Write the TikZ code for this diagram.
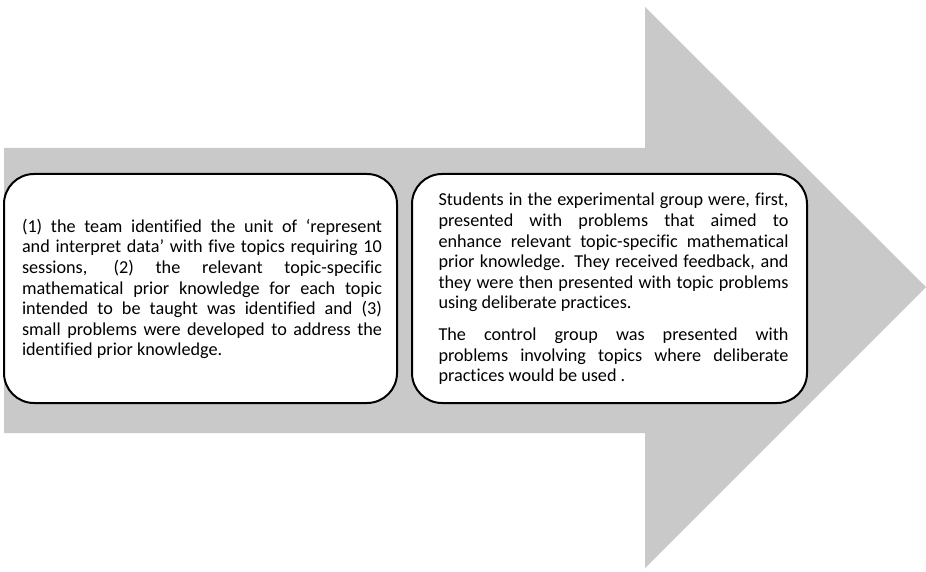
\documentclass[tikz,border=0pt]{standalone}
\usepackage{fontspec}
\setmainfont{Carlito}[Ligatures=NoCommon]
\definecolor{flowgray}{RGB}{201,201,201}
% keep every line break where it is written
\hyphenpenalty=10000
\exhyphenpenalty=10000
\begin{document}
\begin{tikzpicture}[x=1pt,y=1pt,
  flow/.style={fill=flowgray, draw=none},
  stage/.style={draw=black, line width=2pt, fill=white, rounded corners=30pt,
    minimum height=229pt, inner sep=0pt},
  stagetext/.style={text width=#1, align=justify,
    font=\fontsize{18.2}{20.6}\selectfont}]
  % canvas
  \useasboundingbox (0,0) rectangle (926,571);
  % block arrow in the background
  \path[flow] (4,423) -- (645,423) -- (645,564) -- (926,284) -- (645,3)
    -- (645,138) -- (4,138) -- cycle;
  % stage boxes
  \node[stage, minimum width=393pt] (prep) at (200.5,282.5) {};
  \node[stage, minimum width=395pt] (teach) at (609.5,282.5) {};
  % stage texts
  \node[stagetext=360pt] (preptext) at (202,282) {%
    (1) the team identified the unit of ‘represent\linebreak
    and interpret data’ with five topics requiring 10\linebreak
    sessions, (2) the relevant topic-specific\linebreak
    mathematical prior knowledge for each topic\linebreak
    intended to be taught was identified and (3)\linebreak
    small problems were developed to address the\linebreak
    identified prior knowledge.};
  \node[stagetext=350pt] (teachtext) at (613.5,282) {%
    Students in the experimental group were, first,\linebreak
    presented with problems that aimed to\linebreak
    enhance relevant topic-specific mathematical\linebreak
    prior knowledge. They received feedback, and\linebreak
    they were then presented with topic problems\linebreak
    using deliberate practices.\\[11pt]
    The control group was presented with\linebreak
    problems involving topics where deliberate\linebreak
    practices would be used .};
\end{tikzpicture}
\end{document}
